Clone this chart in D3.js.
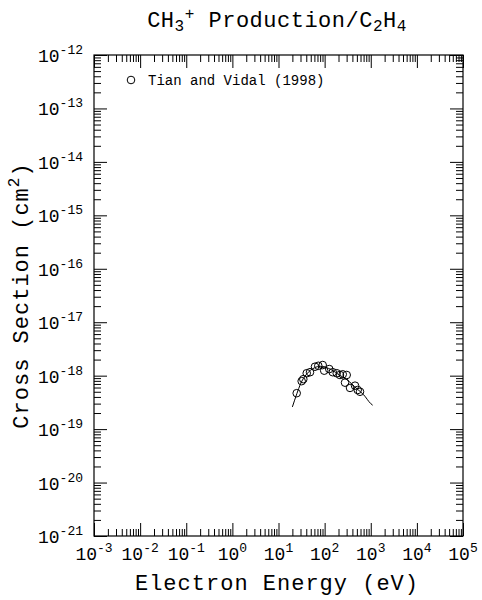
<!DOCTYPE html>
<html>
<head>
<meta charset="utf-8">
<script src="https://cdn.jsdelivr.net/npm/d3@7"></script>
<style>
  body { margin: 0; background: #fff; }
  text { font-family: "Liberation Mono", "DejaVu Sans Mono", monospace; fill: #000; }
</style>
</head>
<body>
<div id="chart"></div>
<script>
// chart size and plot frame
const width = 482;
const height = 600;
const margin = {left: 94, right: 19, top: 55, bottom: 64};

// Tian and Vidal (1998) measured points: energy (eV), cross section (cm^2)
const tvEnergy = [24.8, 31.8, 34.5, 40.9, 48.2, 61.8, 72.9, 90.8, 98, 126,
                  150, 183, 215, 247, 301, 277, 355, 456, 521, 585];
const tvCross = [4.7e-19, 7.9e-19, 8.6e-19, 1.11e-18, 1.16e-18, 1.47e-18, 1.53e-18, 1.58e-18, 1.24e-18, 1.33e-18,
                 1.16e-18, 1.11e-18, 1.03e-18, 1.06e-18, 1.03e-18, 7.4e-19, 5.9e-19, 6.5e-19, 5.4e-19, 5.0e-19];

// recommended curve
const fitEnergy = [20, 25, 30, 40, 60, 80, 100, 150, 200, 300, 500, 700, 1000, 1100];
const fitCross = [2.6e-19, 4.6e-19, 7.0e-19, 1.05e-18, 1.4e-18, 1.5e-18, 1.45e-18, 1.25e-18, 1.05e-18, 8.5e-19,
                  5.7e-19, 4.4e-19, 3.0e-19, 2.8e-19];

// axis decades
const xDecades = [-3, -2, -1, 0, 1, 2, 3, 4, 5];
const yDecades = [-21, -20, -19, -18, -17, -16, -15, -14, -13, -12];

const svg = d3.select("#chart")
  .append("svg")
  .attr("width", width)
  .attr("height", height);

let xScale = d3.scaleLog()
  .domain([1e-3, 1e5])
  .range([margin.left, width - margin.right]);

let yScale = d3.scaleLog()
  .domain([1e-21, 1e-12])
  .range([height - margin.bottom, margin.top]);

// major and minor tick values
const xMajor = xDecades.map(e => Math.pow(10, e));
const yMajor = yDecades.map(e => Math.pow(10, e));
const minorOf = (dec) => {
  let out = [];
  for (let i = 0; i < dec.length - 1; i++) {
    for (let m = 2; m <= 9; m++) out.push(m * Math.pow(10, dec[i]));
  }
  return out;
};
const xMinor = minorOf(xDecades);
const yMinor = minorOf(yDecades);

const majorLen = 13;
const minorLen = 7;

// draw inward ticks on all four sides
function addAxis(axisFn, scale, values, len, transform) {
  svg.append("g")
    .attr("transform", transform)
    .call(axisFn(scale).tickValues(values).tickSize(-len).tickFormat(""))
    .call(g => g.select(".domain").remove())
    .selectAll("line").attr("stroke", "#000").attr("stroke-width", 1);
}
const bottomY = height - margin.bottom;
const rightX = width - margin.right;
addAxis(d3.axisBottom, xScale, xMajor, majorLen, `translate(0,${bottomY})`);
addAxis(d3.axisBottom, xScale, xMinor, minorLen, `translate(0,${bottomY})`);
addAxis(d3.axisTop, xScale, xMajor, majorLen, `translate(0,${margin.top})`);
addAxis(d3.axisTop, xScale, xMinor, minorLen, `translate(0,${margin.top})`);
addAxis(d3.axisLeft, yScale, yMajor, majorLen, `translate(${margin.left},0)`);
addAxis(d3.axisLeft, yScale, yMinor, minorLen, `translate(${margin.left},0)`);
addAxis(d3.axisRight, yScale, yMajor, majorLen, `translate(${rightX},0)`);
addAxis(d3.axisRight, yScale, yMinor, minorLen, `translate(${rightX},0)`);

// frame
svg.append("rect")
  .attr("x", margin.left)
  .attr("y", margin.top)
  .attr("width", rightX - margin.left)
  .attr("height", bottomY - margin.top)
  .attr("fill", "none")
  .attr("stroke", "#000")
  .attr("stroke-width", 1.2);

// x tick labels 10^n
xDecades.forEach(e => {
  let t = svg.append("text")
    .attr("x", xScale(Math.pow(10, e)))
    .attr("y", 560)
    .attr("text-anchor", "middle")
    .attr("font-size", "18px");
  t.append("tspan").text("10");
  t.append("tspan").attr("dy", -8).attr("font-size", "13px").text(e);
});

// y tick labels 10^n
yDecades.forEach(e => {
  let t = svg.append("text")
    .attr("x", 83)
    .attr("y", yScale(Math.pow(10, e)) + 7)
    .attr("text-anchor", "end")
    .attr("font-size", "18px");
  t.append("tspan").text("10");
  t.append("tspan").attr("dy", -8).attr("font-size", "13px").text(e);
});

// title
let title = svg.append("text")
  .attr("x", 277)
  .attr("y", 27)
  .attr("text-anchor", "middle")
  .attr("font-size", "22px")
  .attr("letter-spacing", "0.5px");
title.append("tspan").text("CH");
title.append("tspan").attr("dy", 4).attr("font-size", "16px").text("3");
title.append("tspan").attr("dy", -12).attr("font-size", "16px").text("+");
title.append("tspan").attr("dy", 8).text(" Production/C");
title.append("tspan").attr("dy", 4).attr("font-size", "16px").text("2");
title.append("tspan").attr("dy", -4).text("H");
title.append("tspan").attr("dy", 4).attr("font-size", "16px").text("4");

// x axis label
svg.append("text")
  .attr("x", 277)
  .attr("y", 590)
  .attr("text-anchor", "middle")
  .attr("font-size", "22px")
  .attr("letter-spacing", "1px")
  .text("Electron Energy (eV)");

// y axis label
let ylab = svg.append("text")
  .attr("transform", `translate(28,${(margin.top + bottomY) / 2}) rotate(-90)`)
  .attr("text-anchor", "middle")
  .attr("font-size", "22px")
  .attr("letter-spacing", "1px");
ylab.append("tspan").text("Cross Section (cm");
ylab.append("tspan").attr("dy", -9).attr("font-size", "16px").text("2");
ylab.append("tspan").attr("dy", 9).text(")");

// fit curve
const fitData = fitEnergy.map((x, i) => ({x: x, y: fitCross[i]}));
svg.append("path")
  .datum(fitData)
  .attr("fill", "none")
  .attr("stroke", "#000")
  .attr("stroke-width", 1)
  .attr("d", d3.line()
    .x(d => xScale(d.x))
    .y(d => yScale(d.y))
    .curve(d3.curveMonotoneX));

// measured points
const tvData = tvEnergy.map((x, i) => ({x: x, y: tvCross[i]}));
svg.selectAll(".pt")
  .data(tvData)
  .enter()
  .append("circle")
    .attr("class", "pt")
    .attr("cx", d => xScale(d.x))
    .attr("cy", d => yScale(d.y))
    .attr("r", 3.8)
    .attr("fill", "none")
    .attr("stroke", "#000")
    .attr("stroke-width", 1);

// legend
svg.append("circle")
  .attr("cx", 131)
  .attr("cy", 80)
  .attr("r", 3.8)
  .attr("fill", "none")
  .attr("stroke", "#000");
svg.append("text")
  .attr("x", 148)
  .attr("y", 85)
  .attr("font-size", "14px")
  .text("Tian and Vidal (1998)");
</script>
</body>
</html>
